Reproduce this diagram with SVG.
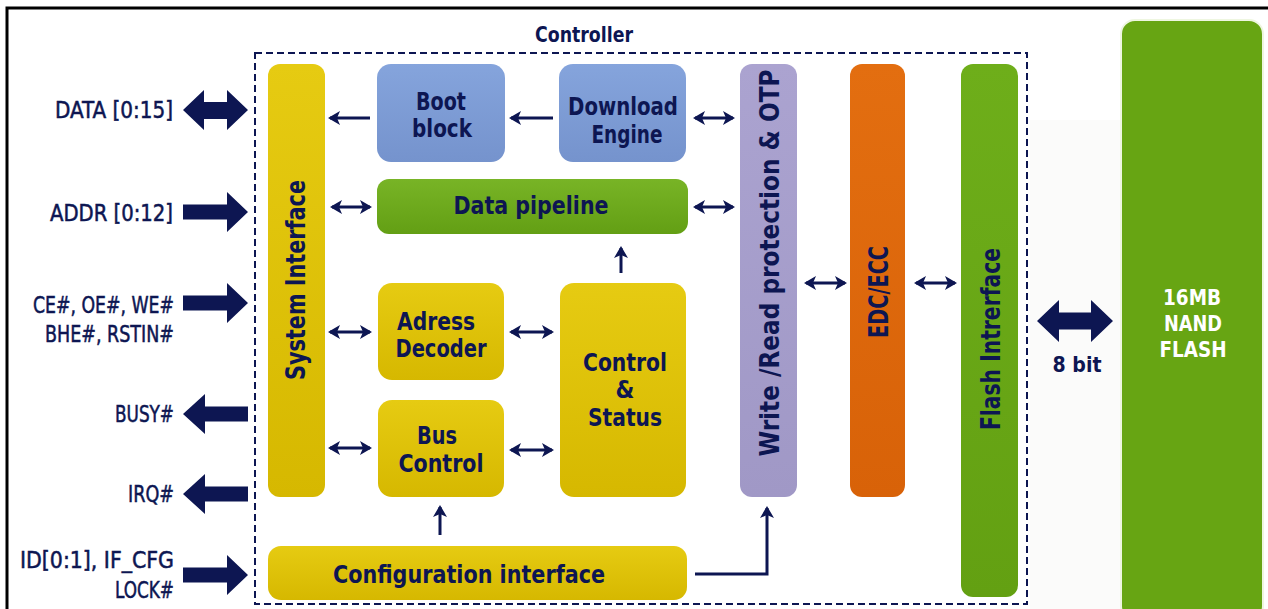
<svg xmlns="http://www.w3.org/2000/svg" width="1268" height="609" viewBox="0 0 1268 609">
<style>
  text { font-family: "DejaVu Sans Condensed", "DejaVu Sans", sans-serif; font-weight: bold; fill: #0d1652; }
  .lbl { font-size: 23px; font-weight: normal; text-anchor: end; stroke: #0d1652; stroke-width: 0.5; }
  .box { font-size: 24px; text-anchor: middle; }
  .vert { font-size: 26px; text-anchor: middle; }
  .white { fill: #ffffff; font-size: 22px; text-anchor: middle; }
  .thin { stroke: #0d1652; stroke-width: 3; fill: none; }
  .thick { fill: #0d1652; }
</style>
<defs>
  <linearGradient id="gY" x1="0" y1="0" x2="0" y2="1"><stop offset="0" stop-color="#e6cb12"/><stop offset="1" stop-color="#d6b800"/></linearGradient>
  <linearGradient id="gB" x1="0" y1="0" x2="0" y2="1"><stop offset="0" stop-color="#85a4dc"/><stop offset="1" stop-color="#7593cd"/></linearGradient>
  <linearGradient id="gG" x1="0" y1="0" x2="0" y2="1"><stop offset="0" stop-color="#78b426"/><stop offset="1" stop-color="#639f14"/></linearGradient>
  <linearGradient id="gP" x1="0" y1="0" x2="0" y2="1"><stop offset="0" stop-color="#aba3d0"/><stop offset="1" stop-color="#a098c6"/></linearGradient>
  <linearGradient id="gO" x1="0" y1="0" x2="0" y2="1"><stop offset="0" stop-color="#e36e10"/><stop offset="1" stop-color="#d86208"/></linearGradient>
  <linearGradient id="gF" x1="0" y1="0" x2="0" y2="1"><stop offset="0" stop-color="#6eae1a"/><stop offset="1" stop-color="#63a012"/></linearGradient>
  <marker id="ah" markerUnits="userSpaceOnUse" markerWidth="12" markerHeight="14" refX="10" refY="7" orient="auto-start-reverse" viewBox="0 0 12 14">
    <path d="M0,0 L12,7 L0,14 L3,7 z" fill="#0d1652"/>
  </marker>
</defs>
<rect width="1268" height="609" fill="#ffffff"/>
<rect x="1030" y="120" width="90" height="489" fill="#fbfbfa"/>
<path d="M7,609 V8 H1268" fill="none" stroke="#000000" stroke-width="3"/>

<g id="controller">
  <rect x="255" y="53" width="772" height="551" fill="none" stroke="#0d1652" stroke-width="2" stroke-dasharray="7,4"/>
  <text x="584" y="42" style="font-size:22px;text-anchor:middle" textLength="98" lengthAdjust="spacingAndGlyphs">Controller</text>
</g>

<g id="labels">
  <text class="lbl" x="173" y="118" textLength="118" lengthAdjust="spacingAndGlyphs">DATA [0:15]</text>
  <text class="lbl" x="173" y="221" textLength="123" lengthAdjust="spacingAndGlyphs">ADDR [0:12]</text>
  <text class="lbl" x="174" y="313" textLength="141" lengthAdjust="spacingAndGlyphs">CE#, OE#, WE#</text>
  <text class="lbl" x="174" y="342" textLength="129" lengthAdjust="spacingAndGlyphs">BHE#, RSTIN#</text>
  <text class="lbl" x="174" y="422" textLength="59" lengthAdjust="spacingAndGlyphs">BUSY#</text>
  <text class="lbl" x="174" y="502" textLength="46" lengthAdjust="spacingAndGlyphs">IRQ#</text>
  <text class="lbl" x="174" y="568" textLength="154" lengthAdjust="spacingAndGlyphs">ID[0:1], IF_CFG</text>
  <text class="lbl" x="174" y="598" textLength="59" lengthAdjust="spacingAndGlyphs">LOCK#</text>
</g>

<g id="system-interface">
  <rect x="268" y="64" width="57" height="433" rx="12" fill="url(#gY)"/>
  <text class="vert" transform="translate(305,280) rotate(-90)" textLength="200" lengthAdjust="spacingAndGlyphs">System Interface</text>
</g>
<g id="boot-block">
  <rect x="377" y="64" width="128" height="98" rx="14" fill="url(#gB)"/>
  <text class="box" x="441" y="110" textLength="50" lengthAdjust="spacingAndGlyphs">Boot</text>
  <text class="box" x="442" y="137" textLength="60" lengthAdjust="spacingAndGlyphs">block</text>
</g>
<g id="download-engine">
  <rect x="559" y="64" width="127" height="98" rx="14" fill="url(#gB)"/>
  <text class="box" x="623" y="115" textLength="110" lengthAdjust="spacingAndGlyphs">Download</text>
  <text class="box" x="627" y="143" textLength="71" lengthAdjust="spacingAndGlyphs">Engine</text>
</g>
<g id="data-pipeline">
  <rect x="377" y="179" width="311" height="55" rx="12" fill="url(#gG)"/>
  <text class="box" x="531" y="214" textLength="155" lengthAdjust="spacingAndGlyphs">Data pipeline</text>
</g>
<g id="adress-decoder">
  <rect x="378" y="283" width="126" height="97" rx="14" fill="url(#gY)"/>
  <text class="box" x="436" y="330" textLength="78" lengthAdjust="spacingAndGlyphs">Adress</text>
  <text class="box" x="441" y="357" textLength="91" lengthAdjust="spacingAndGlyphs">Decoder</text>
</g>
<g id="bus-control">
  <rect x="378" y="400" width="126" height="97" rx="14" fill="url(#gY)"/>
  <text class="box" x="437" y="444" textLength="40" lengthAdjust="spacingAndGlyphs">Bus</text>
  <text class="box" x="441" y="472" textLength="85" lengthAdjust="spacingAndGlyphs">Control</text>
</g>
<g id="control-status">
  <rect x="560" y="283" width="126" height="214" rx="14" fill="url(#gY)"/>
  <text class="box" x="625" y="371" textLength="84" lengthAdjust="spacingAndGlyphs">Control</text>
  <text class="box" x="625" y="398">&amp;</text>
  <text class="box" x="625" y="426" textLength="74" lengthAdjust="spacingAndGlyphs">Status</text>
</g>
<g id="configuration-interface">
  <rect x="268" y="546" width="419" height="54" rx="13" fill="url(#gY)"/>
  <text class="box" x="469" y="583" textLength="272" lengthAdjust="spacingAndGlyphs">Configuration interface</text>
</g>
<g id="write-read-protection">
  <rect x="740" y="64" width="57" height="433" rx="12" fill="url(#gP)"/>
  <text class="vert" transform="translate(779,263) rotate(-90)" textLength="387" lengthAdjust="spacingAndGlyphs">Write /Read protection &amp; OTP</text>
</g>
<g id="edc-ecc">
  <rect x="850" y="64" width="55" height="433" rx="12" fill="url(#gO)"/>
  <text class="vert" transform="translate(888,292) rotate(-90)" textLength="92" lengthAdjust="spacingAndGlyphs">EDC/ECC</text>
</g>
<g id="flash-interface">
  <rect x="961" y="64" width="57" height="533" rx="12" fill="url(#gF)"/>
  <text class="vert" transform="translate(1000,339) rotate(-90)" textLength="182" lengthAdjust="spacingAndGlyphs">Flash Intrerface</text>
</g>
<g id="nand-flash">
  <rect x="1121" y="20" width="142" height="600" rx="14" fill="#67a513" stroke="#eef6e0" stroke-width="2"/>
  <text class="white" x="1192" y="305" textLength="58" lengthAdjust="spacingAndGlyphs">16MB</text>
  <text class="white" x="1193" y="331" textLength="58" lengthAdjust="spacingAndGlyphs">NAND</text>
  <text class="white" x="1193" y="357" textLength="67" lengthAdjust="spacingAndGlyphs">FLASH</text>
</g>

<g id="connectors">
  <polygon class="thick" points="183,110 204,90 204,102 227,102 227,90 248,110 227,130 227,119 204,119 204,130"/>
  <polygon class="thick" points="183,204.5 227,204.5 227,192 248,212 227,232 227,219.5 183,219.5"/>
  <polygon class="thick" points="183,295.5 227,295.5 227,283 248,303 227,323 227,310.5 183,310.5"/>
  <polygon class="thick" points="183,414 205,394 205,406.5 248,406.5 248,421.5 205,421.5 205,434"/>
  <polygon class="thick" points="183,494 205,474 205,486.5 248,486.5 248,501.5 205,501.5 205,514"/>
  <polygon class="thick" points="183,567.5 227,567.5 227,555 248,575 227,595 227,582.5 183,582.5"/>
  <polygon class="thick" points="1037,321 1059,300 1059,312.5 1091,312.5 1091,300 1113,321 1091,342 1091,329.5 1059,329.5 1059,342"/>
  <text x="1077" y="372" style="font-size:22px;text-anchor:middle" textLength="49" lengthAdjust="spacingAndGlyphs">8 bit</text>
  <line class="thin" x1="370" y1="118" x2="330" y2="118" marker-end="url(#ah)"/>
  <line class="thin" x1="553" y1="118" x2="511" y2="118" marker-end="url(#ah)"/>
  <line class="thin" x1="695" y1="118" x2="733" y2="118" marker-start="url(#ah)" marker-end="url(#ah)"/>
  <line class="thin" x1="332" y1="207" x2="370" y2="207" marker-start="url(#ah)" marker-end="url(#ah)"/>
  <line class="thin" x1="695" y1="207" x2="733" y2="207" marker-start="url(#ah)" marker-end="url(#ah)"/>
  <line class="thin" x1="621" y1="273" x2="621" y2="248" marker-end="url(#ah)"/>
  <line class="thin" x1="330" y1="332" x2="370" y2="332" marker-start="url(#ah)" marker-end="url(#ah)"/>
  <line class="thin" x1="511" y1="332" x2="552" y2="332" marker-start="url(#ah)" marker-end="url(#ah)"/>
  <line class="thin" x1="330" y1="448" x2="370" y2="448" marker-start="url(#ah)" marker-end="url(#ah)"/>
  <line class="thin" x1="511" y1="450" x2="552" y2="450" marker-start="url(#ah)" marker-end="url(#ah)"/>
  <line class="thin" x1="440" y1="535" x2="440" y2="507" marker-end="url(#ah)"/>
  <line class="thin" x1="806" y1="283" x2="845" y2="283" marker-start="url(#ah)" marker-end="url(#ah)"/>
  <line class="thin" x1="916" y1="283" x2="955" y2="283" marker-start="url(#ah)" marker-end="url(#ah)"/>
  <polyline class="thin" points="695,574 767,574 767,508" marker-end="url(#ah)"/>
</g>
</svg>
